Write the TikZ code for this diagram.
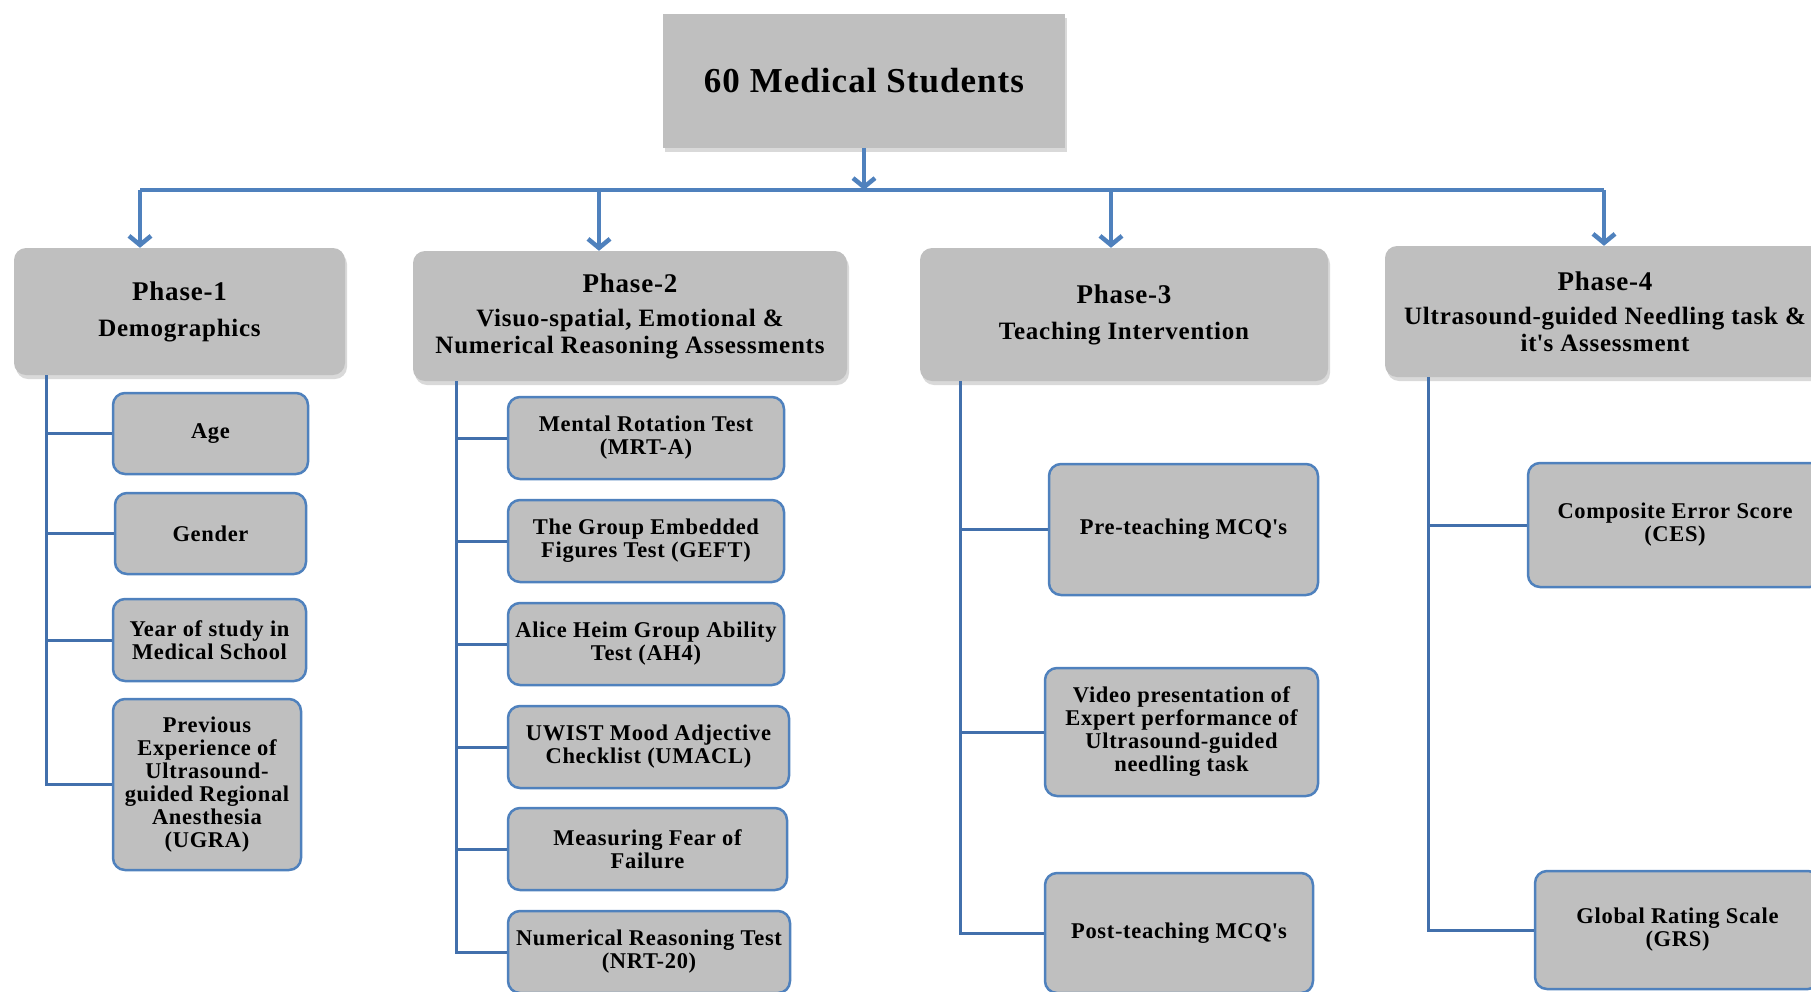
\documentclass[tikz,border=0pt]{standalone}
\usepackage{fontspec}
\setmainfont{Liberation Serif}[LetterSpace=3]
\usetikzlibrary{arrows.meta,shadows}
\definecolor{boxgray}{RGB}{191,191,191}
\definecolor{lineblue}{RGB}{79,129,189}
\definecolor{trunkblue}{RGB}{66,112,172}
\tikzset{>={Straight Barb[length=9pt,width=22pt]}}
\tikzstyle{top}=[fill=boxgray,align=center,font=\bfseries\fontsize{35}{37}\selectfont,
                 drop shadow={shadow xshift=2pt,shadow yshift=-4pt,opacity=0.3}]
\tikzstyle{phase}=[top,rounded corners=12pt,font=\bfseries\fontsize{27}{27}\selectfont]
\tikzstyle{item}=[draw=lineblue,line width=2.5pt,fill=boxgray,rounded corners=12pt,
                  align=center,inner sep=2pt,font=\bfseries\fontsize{22.5}{23}\selectfont]
\tikzstyle{trunk}=[trunkblue,line width=3pt]
\tikzstyle{bus}=[lineblue,line width=4.5pt,line join=round]

\begin{document}
\begin{tikzpicture}[x=1pt,y=-1pt]
  \useasboundingbox (0,0) rectangle (1811,991);

  % TOP BOX
  \node[top,minimum width=402pt,minimum height=134pt] (top) at (864,81) {60 Medical Students};

  % PHASES
  \node[phase,minimum width=331pt,minimum height=127pt] (p1) at (179.5,311.5)
    {Phase-1\\[9pt]\fontsize{25}{25}\selectfont Demographics};
  \node[phase,minimum width=434pt,minimum height=130pt] (p2) at (630,316)
    {Phase-2\\[7pt]\fontsize{25}{25}\selectfont Visuo-spatial, Emotional \&\\
     \fontsize{25}{25}\selectfont Numerical Reasoning Assessments};
  \node[phase,minimum width=408pt,minimum height=133pt] (p3) at (1124,314.5)
    {Phase-3\\[9pt]\fontsize{25}{25}\selectfont Teaching Intervention};
  \node[phase,minimum width=440pt,minimum height=131pt] (p4) at (1605,311.5)
    {Phase-4\\[7pt]\fontsize{25}{25}\selectfont Ultrasound-guided Needling task \&\\
     \fontsize{25}{25}\selectfont it\textquotesingle s Assessment};

  % ARROWS
  \coordinate (b1) at (140,190);
  \coordinate (b2) at (599,190);
  \coordinate (b3) at (1111,190);
  \coordinate (b4) at (1604,190);
  \draw[->,bus] (top.south) -- (top.south |- b1);
  \draw[bus] (b1) -- (b4);
  \foreach \i in {1,...,4}
    \draw[->,bus] (b\i) -- (b\i |- p\i.north);

  % PHASE-1 ITEMS
  \node[item,minimum width=195pt,minimum height=81pt] (age) at (210.5,433.5) {Age};
  \node[item,minimum width=191pt,minimum height=81pt] (gender) at (210.5,533.5) {Gender};
  \node[item,minimum width=193pt,minimum height=82pt] (year) at (209.5,640)
    {Year of study in\\Medical School};
  \node[item,minimum width=188pt,minimum height=171pt] (prev) at (207,784.5)
    {Previous\\Experience of\\Ultrasound-\\guided Regional\\Anesthesia\\(UGRA)};
  \foreach \c in {age,gender,year,prev}
    \draw[trunk] ([xshift=33pt]p1.south west) |- (\c.west);

  % PHASE-2 ITEMS
  \node[item,minimum width=276pt,minimum height=82pt] (mrt) at (646,438)
    {Mental Rotation Test\\(MRT-A)};
  \node[item,minimum width=276pt,minimum height=82pt] (geft) at (646,541)
    {The Group Embedded\\Figures Test (GEFT)};
  \node[item,minimum width=276pt,minimum height=82pt] (ah4) at (646,644)
    {Alice Heim Group Ability\\Test (AH4)};
  \node[item,minimum width=281pt,minimum height=82pt] (umacl) at (648.5,747)
    {UWIST Mood Adjective\\Checklist (UMACL)};
  \node[item,minimum width=279pt,minimum height=82pt] (fear) at (647.5,849)
    {Measuring Fear of\\Failure};
  \node[item,minimum width=282pt,minimum height=82pt] (nrt) at (649,952)
    {Numerical Reasoning Test\\(NRT-20)};
  \foreach \c in {mrt,geft,ah4,umacl,fear,nrt}
    \draw[trunk] ([xshift=44pt]p2.south west) |- (\c.west);

  % PHASE-3 ITEMS
  \node[item,minimum width=269pt,minimum height=131pt] (pre) at (1183.5,529.5)
    {Pre-teaching MCQ\textquotesingle s};
  \node[item,minimum width=273pt,minimum height=128pt] (video) at (1181.5,732)
    {Video presentation of\\Expert performance of\\Ultrasound-guided\\needling task};
  \node[item,minimum width=268pt,minimum height=120pt] (post) at (1179,933)
    {Post-teaching MCQ\textquotesingle s};
  \foreach \c in {pre,video,post}
    \draw[trunk] ([xshift=41pt]p3.south west) |- (\c.west);

  % PHASE-4 ITEMS
  \node[item,minimum width=294pt,minimum height=124pt] (ces) at (1675,525)
    {Composite Error Score\\(CES)};
  \node[item,minimum width=285pt,minimum height=118pt] (grs) at (1677.5,930)
    {Global Rating Scale\\(GRS)};
  \foreach \c in {ces,grs}
    \draw[trunk] ([xshift=44pt]p4.south west) |- (\c.west);

\end{tikzpicture}
\end{document}
